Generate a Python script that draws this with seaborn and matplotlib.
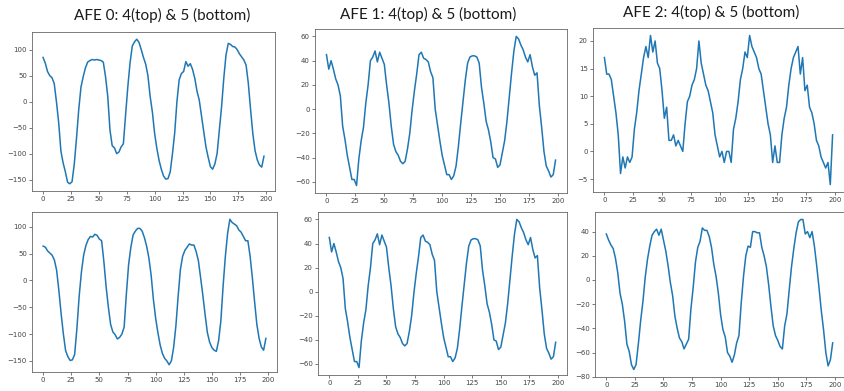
import numpy as np
import pandas as pd
import matplotlib
matplotlib.use("Agg")
import matplotlib.pyplot as plt
import seaborn as sns

# ---------------- data (every 2nd sample) ----------------
sample = list(range(0, 200, 2))

titles = ["AFE 0: 4(top) & 5 (bottom)",
          "AFE 1: 4(top) & 5 (bottom)",
          "AFE 2: 4(top) & 5 (bottom)"]

x_ticks = [0, 25, 50, 75, 100, 125, 150, 175, 200]

afe0_top = [85, 74, 58, 50, 46, 35, 0, -40, -95, -118,
            -135, -155, -158, -154, -120, -70, -15, 28, 48, 65,
            76, 79, 81, 80, 81, 80, 79, 76, 48, 10,
            -55, -85, -89, -100, -97, -87, -81, -25, 29, 75,
            107, 115, 120, 114, 100, 85, 72, 50, 10, -20,
            -61, -90, -113, -130, -143, -149, -148, -135, -100, -60,
            0, 42, 54, 58, 77, 68, 73, 62, 45, 20,
            3, -27, -57, -87, -107, -125, -130, -120, -100, -55,
            -10, 45, 90, 112, 110, 106, 105, 100, 92, 86,
            80, 70, 35, -15, -61, -94, -112, -122, -126, -105]

afe0_bottom = [64, 62, 55, 51, 47, 38, 19, -19, -62, -100,
               -131, -142, -149, -148, -138, -90, -30, 15, 47, 65,
               76, 82, 81, 86, 84, 77, 74, 35, -12, -50,
               -82, -96, -101, -109, -106, -100, -87, -25, 30, 62,
               85, 92, 97, 97, 92, 80, 64, 42, 10, -35,
               -70, -97, -120, -136, -145, -150, -157, -150, -125, -85,
               -30, 20, 45, 56, 62, 68, 66, 66, 54, 37,
               5, -28, -64, -97, -115, -125, -130, -132, -112, -75,
               -10, 45, 88, 114, 108, 105, 102, 94, 90, 82,
               74, 74, 45, 5, -40, -82, -108, -124, -130, -108]

afe1_top = [45, 33, 40, 33, 25, 20, 11, -14, -25, -38,
            -48, -58, -58, -63, -41, -26, -15, 5, 20, 40,
            43, 48, 39, 47, 42, 37, 20, 5, -14, -29,
            -35, -38, -43, -45, -43, -33, -20, -1, 15, 29,
            45, 47, 42, 41, 39, 31, 26, 0, -13, -26,
            -38, -46, -54, -54, -58, -55, -47, -31, -12, 6,
            24, 38, 43, 44, 44, 43, 38, 18, 5, -10,
            -17, -27, -40, -41, -48, -46, -36, -26, -10, 10,
            30, 48, 60, 58, 53, 49, 43, 39, 45, 35,
            28, 30, 3, -15, -35, -47, -51, -56, -54, -42]

afe1_bottom = [45, 33, 40, 33, 25, 20, 11, -14, -25, -38,
               -48, -58, -58, -63, -41, -26, -15, 5, 20, 40,
               43, 48, 39, 47, 42, 37, 20, 5, -14, -29,
               -35, -38, -43, -45, -43, -33, -20, -1, 15, 29,
               45, 47, 42, 41, 39, 31, 26, 0, -13, -26,
               -38, -46, -54, -54, -58, -55, -47, -31, -12, 6,
               24, 38, 43, 44, 44, 43, 38, 18, 5, -10,
               -17, -27, -40, -41, -48, -46, -36, -26, -10, 10,
               30, 48, 60, 58, 53, 49, 43, 39, 45, 35,
               28, 30, 3, -15, -35, -47, -51, -56, -54, -42]

afe2_top = [17, 14, 14, 13, 10, 7, 3, -4, -1, -3,
            -1, -2, -1, 4, 7, 11, 14, 17, 19, 17,
            21, 18, 20, 16, 15, 11, 6, 8, 2, 2,
            3, 1, 2, 1, 0, 5, 9, 10, 12, 13,
            15, 20, 16, 14, 12, 11, 9, 7, 3, 1,
            -1, 0, -2, 0, 0, -2, 4, 6, 9, 13,
            15, 18, 17, 21, 19, 18, 17, 15, 14, 11,
            8, 5, 3, -2, 1, -2, -2, 3, 6, 8,
            12, 15, 17, 18, 19, 14, 17, 11, 12, 8,
            7, 5, 2, 1, -1, -2, -3, -2, -6, 3]

afe2_bottom = [38, 33, 29, 26, 18, 6, -11, -20, -34, -53,
               -59, -70, -74, -70, -53, -34, -18, 2, 17, 28,
               37, 40, 42, 37, 42, 33, 24, 12, -2, -13,
               -30, -40, -48, -51, -57, -53, -49, -24, -6, 15,
               27, 32, 43, 41, 41, 36, 27, 13, 3, -11,
               -29, -41, -47, -60, -63, -68, -62, -52, -46, -19,
               3, 20, 28, 27, 40, 40, 39, 39, 27, 20,
               11, -4, -22, -38, -46, -50, -55, -57, -38, -28,
               -8, 11, 26, 39, 48, 50, 50, 38, 40, 35,
               40, 28, 12, -6, -25, -41, -60, -71, -66, -52]

# ---------------- layout ----------------
W, H = 845, 391
fig = plt.figure(figsize=(W / 100, H / 100), dpi=100)
fig.patch.set_facecolor("white")


def add_ax(l, t, r, b):
    return fig.add_axes([l / W, 1 - b / H, (r - l) / W, (b - t) / H])


panels = [
    (afe0_top, (32, 32, 275, 191)),
    (afe1_top, (315, 29, 567, 193)),
    (afe2_top, (593, 28, 844, 192)),
    (afe0_bottom, (32, 212, 277, 372)),
    (afe1_bottom, (318, 212, 567, 375)),
    (afe2_bottom, (595, 212, 844, 377)),
]

for vals, box in panels:
    ax = add_ax(*box)
    df = pd.DataFrame({"sample": sample, "value": vals})
    sns.lineplot(data=df, x="sample", y="value", ax=ax,
                 color="#1f77b4", linewidth=1.1)
    ax.set_xlabel("")
    ax.set_ylabel("")
    ax.set_xticks(x_ticks)
    ax.margins(x=0.05, y=0.05)
    ax.set_facecolor("white")
    ax.tick_params(labelsize=5, length=2.2, width=0.5, pad=1.5,
                   colors="#444444")
    for sp in ax.spines.values():
        sp.set_linewidth(0.6)
        sp.set_color("#666666")

title_pos = [(162, 20), (428, 19), (711, 17)]
for t, (px, py) in zip(titles, title_pos):
    fig.text(px / W, 1 - py / H, t, ha="center", va="baseline",
             fontsize=11, family=["Lato", "DejaVu Sans"], color="#1a1a1a")

fig.savefig("out.png", dpi=100, facecolor="white")
